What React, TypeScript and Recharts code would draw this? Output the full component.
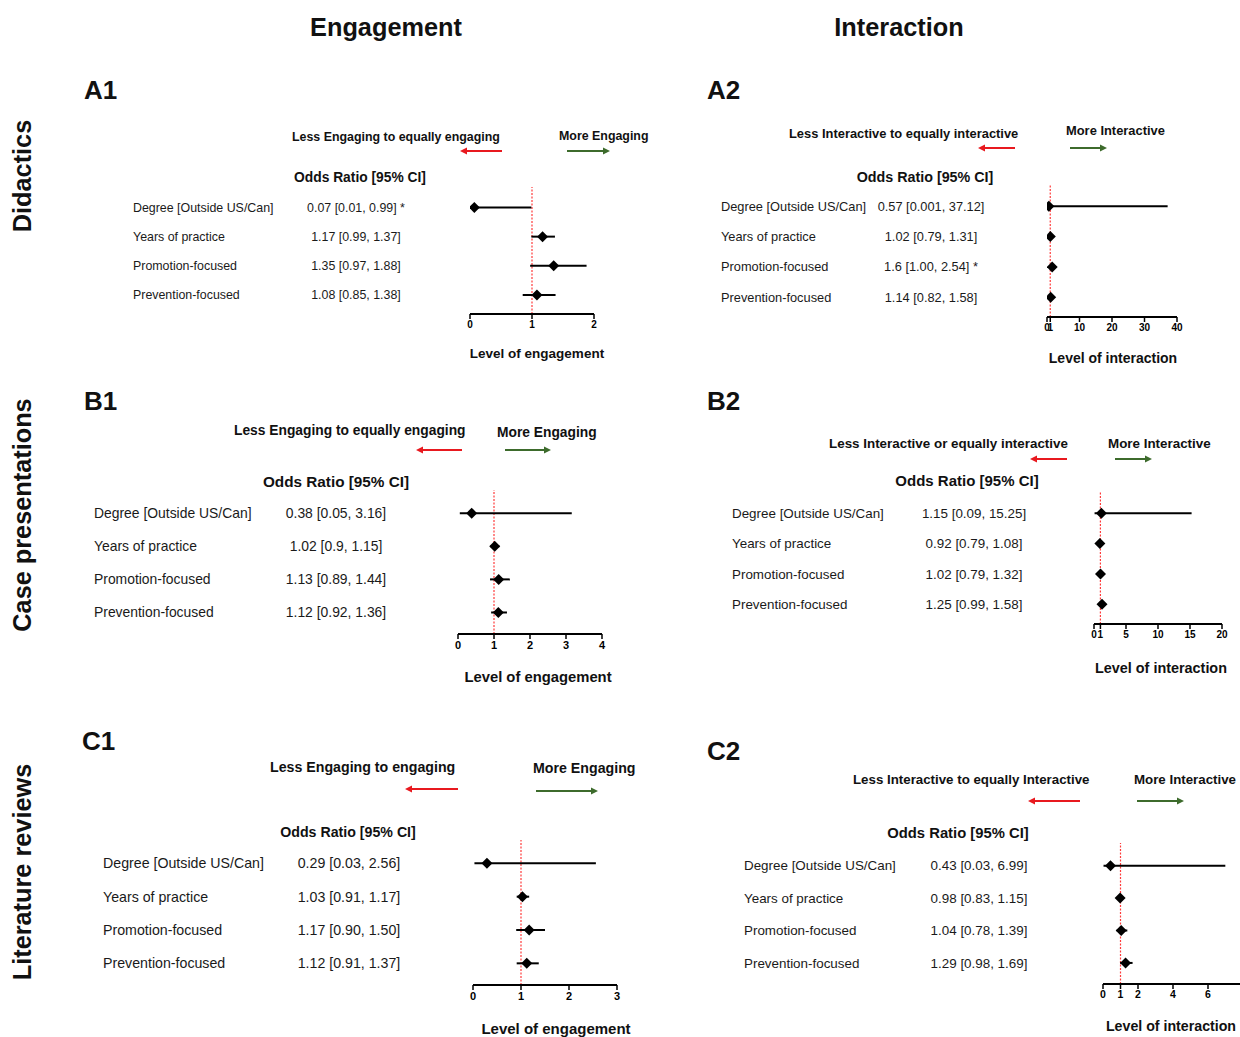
import React from 'react';
import { ComposedChart, Scatter, ErrorBar, XAxis, YAxis, ReferenceLine } from 'recharts';

const FONT = '"Liberation Sans", Arial, Helvetica, sans-serif';
const RED = '#e8191f';
const GREEN = '#3d6b2c';

const predictors = ['Degree [Outside US/Can]', 'Years of practice', 'Promotion-focused', 'Prevention-focused'];

// odds ratio, lower and upper bound of the 95% CI, significance flag
const a1Or = ['0.07', '1.17', '1.35', '1.08'];
const a1Lo = ['0.01', '0.99', '0.97', '0.85'];
const a1Hi = ['0.99', '1.37', '1.88', '1.38'];
const a1Sig = [' *', '', '', ''];

const a2Or = ['0.57', '1.02', '1.6', '1.14'];
const a2Lo = ['0.001', '0.79', '1.00', '0.82'];
const a2Hi = ['37.12', '1.31', '2.54', '1.58'];
const a2Sig = ['', '', ' *', ''];

const b1Or = ['0.38', '1.02', '1.13', '1.12'];
const b1Lo = ['0.05', '0.9', '0.89', '0.92'];
const b1Hi = ['3.16', '1.15', '1.44', '1.36'];

const b2Or = ['1.15', '0.92', '1.02', '1.25'];
const b2Lo = ['0.09', '0.79', '0.79', '0.99'];
const b2Hi = ['15.25', '1.08', '1.32', '1.58'];

const c1Or = ['0.29', '1.03', '1.17', '1.12'];
const c1Lo = ['0.03', '0.91', '0.90', '0.91'];
const c1Hi = ['2.56', '1.17', '1.50', '1.37'];

const c2Or = ['0.43', '0.98', '1.04', '1.29'];
const c2Lo = ['0.03', '0.83', '0.78', '0.98'];
const c2Hi = ['6.99', '1.15', '1.39', '1.69'];

const noSig = ['', '', '', ''];

const a1Ticks = [0, 1, 2];
const a2Ticks = [0, 1, 10, 20, 30, 40];
const b1Ticks = [0, 1, 2, 3, 4];
const b2Ticks = [0, 1, 5, 10, 15, 20];
const c1Ticks = [0, 1, 2, 3];
const c2Ticks = [0, 1, 2, 4, 6, 8];

const panels = [
  {
    id: 'A1', or: a1Or, lo: a1Lo, hi: a1Hi, sig: a1Sig, ticks: a1Ticks, domain: [0, 2], title: 'Level of engagement',
    labelX: 133, valueX: 356, x0: 470, x1: 594, plotTop: 187, axisY: 314, titleY: 352, titleDx: 5,
    labelFont: 12.4, tickFont: 10, titleFont: 13.5,
    less: 'Less Engaging to equally engaging', more: 'More Engaging', lessX: 292, lessY: 137, moreX: 559, moreY: 136,
    red: [502, 460, 151], green: [567, 610, 151], oddsX: 360, oddsY: 177, headFont: 12.4, oddsFont: 13.8,
    tagX: 84, tagY: 90,
  },
  {
    id: 'A2', or: a2Or, lo: a2Lo, hi: a2Hi, sig: a2Sig, ticks: a2Ticks, domain: [0, 40], title: 'Level of interaction',
    labelX: 721, valueX: 931, x0: 1047, x1: 1177, plotTop: 185, axisY: 317, titleY: 357, titleDx: 1,
    labelFont: 12.8, tickFont: 10, titleFont: 14,
    less: 'Less Interactive to equally interactive', more: 'More Interactive', lessX: 789, lessY: 133, moreX: 1066, moreY: 130,
    red: [1015, 978, 148], green: [1070, 1107, 148], oddsX: 925, oddsY: 177, headFont: 12.9, oddsFont: 14.3,
    tagX: 707, tagY: 90,
  },
  {
    id: 'B1', or: b1Or, lo: b1Lo, hi: b1Hi, sig: noSig, ticks: b1Ticks, domain: [0, 4], title: 'Level of engagement',
    labelX: 94, valueX: 336, x0: 458, x1: 602, plotTop: 490, axisY: 634, titleY: 676, titleDx: 8,
    labelFont: 13.9, tickFont: 11, titleFont: 14.8,
    less: 'Less Engaging to equally engaging', more: 'More Engaging', lessX: 234, lessY: 430, moreX: 497, moreY: 432,
    red: [462, 416, 450], green: [505, 551, 450], oddsX: 336, oddsY: 481, headFont: 13.8, oddsFont: 15.3,
    tagX: 84, tagY: 401,
  },
  {
    id: 'B2', or: b2Or, lo: b2Lo, hi: b2Hi, sig: noSig, ticks: b2Ticks, domain: [0, 20], title: 'Level of interaction',
    labelX: 732, valueX: 974, x0: 1094, x1: 1222, plotTop: 492, axisY: 624, titleY: 667, titleDx: 3,
    labelFont: 13.4, tickFont: 10, titleFont: 14.4,
    less: 'Less Interactive or equally interactive', more: 'More Interactive', lessX: 829, lessY: 443, moreX: 1108, moreY: 443,
    red: [1067, 1030, 459], green: [1115, 1152, 459], oddsX: 967, oddsY: 480, headFont: 13.4, oddsFont: 15,
    tagX: 707, tagY: 401,
  },
  {
    id: 'C1', or: c1Or, lo: c1Lo, hi: c1Hi, sig: noSig, ticks: c1Ticks, domain: [0, 3], title: 'Level of engagement',
    labelX: 103, valueX: 349, x0: 473, x1: 617, plotTop: 840, axisY: 985, titleY: 1028, titleDx: 11,
    labelFont: 14.2, tickFont: 11, titleFont: 15,
    less: 'Less Engaging to engaging', more: 'More Engaging', lessX: 270, lessY: 767, moreX: 533, moreY: 768,
    red: [458, 405, 789], green: [536, 598, 791], oddsX: 348, oddsY: 832, headFont: 14.2, oddsFont: 14.2,
    tagX: 82, tagY: 741,
  },
  {
    id: 'C2', or: c2Or, lo: c2Lo, hi: c2Hi, sig: noSig, ticks: c2Ticks, domain: [0, 8], title: 'Level of interaction',
    labelX: 744, valueX: 979, x0: 1103, x1: 1243, plotTop: 843, axisY: 984, titleY: 1025, titleDx: -2,
    labelFont: 13.4, tickFont: 10.5, titleFont: 14.2,
    less: 'Less Interactive to equally Interactive', more: 'More Interactive', lessX: 853, lessY: 779, moreX: 1134, moreY: 779,
    red: [1080, 1028, 801], green: [1137, 1184, 801], oddsX: 958, oddsY: 833, headFont: 13.3, oddsFont: 14.8,
    tagX: 707, tagY: 751,
  },
];

function Diamond(props: any) {
  const { cx, cy } = props;
  const r = 5.5;
  return <polygon points={`${cx},${cy - r} ${cx + r},${cy} ${cx},${cy + r} ${cx - r},${cy}`} fill="#000" />;
}

function ForestPanel({ p }: { p: any }) {
  const chartLeft = p.labelX - 5;
  const rightPad = 14;
  const yAxisW = p.x0 - chartLeft;
  const width = p.x1 - chartLeft + rightPad;
  const xAxisH = p.titleY - p.axisY + 12;
  const height = p.axisY - p.plotTop + xAxisH;

  const data = p.or.map((o: string, i: number) => {
    const v = parseFloat(o);
    return {
      row: i + 1,
      or: v,
      err: [v - parseFloat(p.lo[i]), parseFloat(p.hi[i]) - v],
      text: `${o} [${p.lo[i]}, ${p.hi[i]}]${p.sig[i]}`,
    };
  });

  const RowTick = ({ y, payload }: any) => {
    const d = data[payload.value - 1];
    if (!d) return null;
    return (
      <g>
        <text x={5} y={y} dy={p.labelFont * 0.35} fontSize={p.labelFont} fill="#1a1a1a" fontFamily={FONT}>
          {predictors[payload.value - 1]}
        </text>
        <text x={p.valueX - chartLeft} y={y} dy={p.labelFont * 0.35} fontSize={p.labelFont} fill="#1a1a1a"
          fontFamily={FONT} textAnchor="middle">
          {d.text}
        </text>
      </g>
    );
  };

  return (
    <div style={{ position: 'absolute', left: chartLeft, top: p.plotTop }}>
      <ComposedChart width={width} height={height} margin={{ top: 0, right: rightPad, bottom: 0, left: 0 }}>
        <XAxis
          type="number"
          dataKey="or"
          domain={p.domain}
          ticks={p.ticks}
          interval={0}
          allowDataOverflow
          height={xAxisH}
          tickSize={5}
          axisLine={{ stroke: '#000', strokeWidth: 2 }}
          tickLine={{ stroke: '#000', strokeWidth: 1.5 }}
          tick={{ fontSize: p.tickFont, fontWeight: 700, fill: '#000', fontFamily: FONT }}
          label={{
            value: p.title, position: 'insideBottom', offset: 6, dx: p.titleDx,
            style: { fontSize: p.titleFont, fontWeight: 700, fill: '#111', fontFamily: FONT },
          }}
        />
        <YAxis
          type="number"
          dataKey="row"
          domain={[0.3, 4.65]}
          reversed
          ticks={[1, 2, 3, 4]}
          interval={0}
          width={yAxisW}
          axisLine={false}
          tickLine={false}
          tick={<RowTick />}
        />
        <ReferenceLine x={1} stroke="#ff3b3b" strokeDasharray="2 1.5" strokeWidth={1.2} />
        <Scatter data={data} shape={<Diamond />} isAnimationActive={false}>
          <ErrorBar dataKey="err" direction="x" width={0} stroke="#000" strokeWidth={2} />
        </Scatter>
      </ComposedChart>
    </div>
  );
}

function Arrow({ x1, x2, y, color }: { x1: number; x2: number; y: number; color: string }) {
  const dir = x2 > x1 ? 1 : -1;
  return (
    <g>
      <line x1={x1} y1={y} x2={x2 - dir * 5} y2={y} stroke={color} strokeWidth={2} />
      <polygon points={`${x2},${y} ${x2 - dir * 7},${y - 3.5} ${x2 - dir * 7},${y + 3.5}`} fill={color} />
    </g>
  );
}

function Overlay() {
  const txt = { fontFamily: FONT, fontWeight: 700, fill: '#111' } as const;
  return (
    <svg width={1240} height={1037} style={{ position: 'absolute', left: 0, top: 0 }}>
      <text x={386} y={27} textAnchor="middle" dominantBaseline="central" fontSize={25.3} {...txt}>Engagement</text>
      <text x={899} y={27} textAnchor="middle" dominantBaseline="central" fontSize={25.3} {...txt}>Interaction</text>
      <text transform="translate(22,176) rotate(-90)" textAnchor="middle" dominantBaseline="central" fontSize={25.3} {...txt}>Didactics</text>
      <text transform="translate(22,515) rotate(-90)" textAnchor="middle" dominantBaseline="central" fontSize={25.3} {...txt}>Case presentations</text>
      <text transform="translate(22,872) rotate(-90)" textAnchor="middle" dominantBaseline="central" fontSize={25.3} {...txt}>Literature reviews</text>
      {panels.map((p) => (
        <g key={p.id}>
          <text x={p.tagX} y={p.tagY} dominantBaseline="central" fontSize={26} {...txt}>{p.id}</text>
          <text x={p.lessX} y={p.lessY} dominantBaseline="central" fontSize={p.headFont} {...txt}>{p.less}</text>
          <text x={p.moreX} y={p.moreY} dominantBaseline="central" fontSize={p.headFont} {...txt}>{p.more}</text>
          <text x={p.oddsX} y={p.oddsY} textAnchor="middle" dominantBaseline="central" fontSize={p.oddsFont} {...txt}>
            Odds Ratio [95% CI]
          </text>
          <Arrow x1={p.red[0]} x2={p.red[1]} y={p.red[2]} color={RED} />
          <Arrow x1={p.green[0]} x2={p.green[1]} y={p.green[2]} color={GREEN} />
        </g>
      ))}
    </svg>
  );
}

export default function App() {
  return (
    <div style={{ position: 'absolute', left: 0, top: 0, width: 1240, height: 1037, overflow: 'hidden', background: '#fff' }}>
      <Overlay />
      {panels.map((p) => (
        <ForestPanel key={p.id} p={p} />
      ))}
    </div>
  );
}
